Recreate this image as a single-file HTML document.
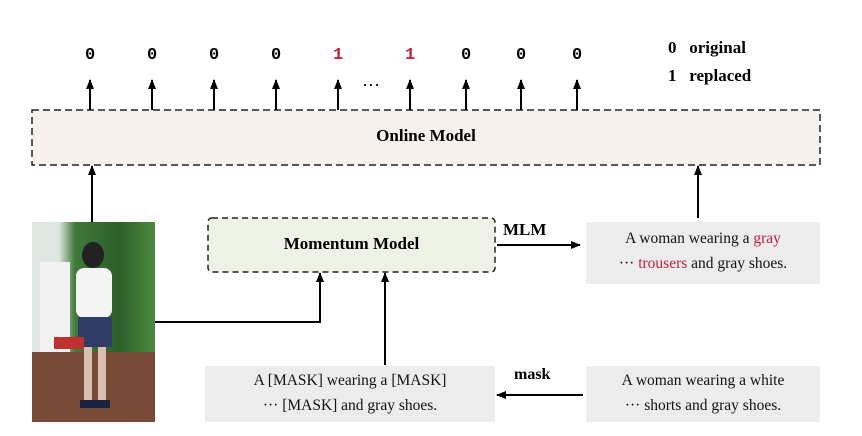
<!DOCTYPE html>
<html><head><style>
body{margin:0;background:#fff;width:862px;height:436px;overflow:hidden;position:relative;font-family:"Liberation Serif",serif}
.a{position:absolute}
.d{position:absolute;font-family:"Liberation Mono",monospace;font-weight:bold;font-size:17px;top:46px}
.tb{position:absolute;background:#ececec;font-size:15.5px;text-align:center;line-height:25px;color:#111}
</style></head><body>
<svg class="a" style="left:0;top:0" width="862" height="436">
<defs><marker id="ar" markerUnits="userSpaceOnUse" markerWidth="10" markerHeight="8" refX="9" refY="4" orient="auto"><path d="M0,0 L10,4 L0,8 z" fill="#000"/></marker></defs>
<rect x="32" y="110" width="788" height="55" fill="#f7f1ed" stroke="#222" stroke-width="1.5" stroke-dasharray="7,4"/>
<rect x="208" y="218" width="287" height="54" rx="4" fill="#eef1e6" stroke="#222" stroke-width="1.5" stroke-dasharray="6,4"/>
<g stroke="#000" stroke-width="2" marker-end="url(#ar)">
<line x1="90" y1="110" x2="90" y2="80"/><line x1="152" y1="110" x2="152" y2="80"/>
<line x1="214" y1="110" x2="214" y2="80"/><line x1="276" y1="110" x2="276" y2="80"/>
<line x1="338" y1="110" x2="338" y2="80"/><line x1="410" y1="110" x2="410" y2="80"/>
<line x1="466" y1="110" x2="466" y2="80"/><line x1="521" y1="110" x2="521" y2="80"/>
<line x1="577" y1="110" x2="577" y2="80"/>
<line x1="92" y1="222" x2="92" y2="166"/><line x1="698" y1="218" x2="698" y2="166"/>
<line x1="497" y1="245" x2="580" y2="245"/>
<polyline fill="none" points="155,322 320,322 320,273"/>
<line x1="385" y1="365" x2="385" y2="273"/>
<line x1="583" y1="395" x2="497" y2="395"/>
</g>
</svg>
<div class="d" style="left:85px">0</div><div class="d" style="left:147px">0</div><div class="d" style="left:209px">0</div><div class="d" style="left:271px">0</div>
<div class="d" style="left:333px;color:#c0203a">1</div><div class="d" style="left:405px;color:#c0203a">1</div>
<div class="d" style="left:461px">0</div><div class="d" style="left:516px">0</div><div class="d" style="left:572px">0</div>
<div class="a" style="left:362px;top:70px;font-size:18px">…</div>
<div class="a" style="left:668px;top:34px;font-weight:bold;font-size:17px;line-height:28px">0&nbsp;&nbsp;&nbsp;original<br>1&nbsp;&nbsp;&nbsp;replaced</div>
<div class="a" style="left:32px;width:788px;top:126px;text-align:center;font-weight:bold;font-size:17px">Online Model</div>
<div class="a" style="left:208px;width:287px;top:234px;text-align:center;font-weight:bold;font-size:17px">Momentum Model</div>
<div class="a" style="left:503px;top:220px;font-weight:bold;font-size:17px">MLM</div>
<div class="a" style="left:514px;top:366px;font-weight:bold;font-size:16px">mask</div>
<div class="tb" style="left:586px;top:222px;width:234px;height:58px;padding-top:4px">A woman wearing a <span style="color:#c0203a">gray</span><br>··· <span style="color:#c0203a">trousers</span> and gray shoes.</div>
<div class="tb" style="left:205px;top:366px;width:290px;height:54px;padding-top:2px">A [MASK] wearing a [MASK]<br>··· [MASK] and gray shoes.</div>
<div class="tb" style="left:586px;top:366px;width:234px;height:54px;padding-top:2px">A woman wearing a white<br>··· shorts and gray shoes.</div>
<div class="a" style="left:32px;top:222px;width:123px;height:200px;overflow:hidden;background:linear-gradient(90deg,#dfe5e0 0,#dfe5e0 22%,#3f7a3a 35%,#2d5e2a 70%,#4a8a3e 100%)">
<div class="a" style="left:0;top:130px;width:123px;height:70px;background:#7a4a38"></div>
<div class="a" style="left:8px;top:40px;width:30px;height:90px;background:#f2f2f2"></div>
<div class="a" style="left:50px;top:20px;width:22px;height:26px;border-radius:50%;background:#222"></div>
<div class="a" style="left:44px;top:46px;width:36px;height:50px;border-radius:8px;background:#f4f4f4"></div>
<div class="a" style="left:46px;top:95px;width:34px;height:30px;background:#2e3c66"></div>
<div class="a" style="left:52px;top:125px;width:8px;height:55px;background:#d8c0b0"></div>
<div class="a" style="left:66px;top:125px;width:8px;height:55px;background:#d8c0b0"></div>
<div class="a" style="left:48px;top:178px;width:30px;height:8px;background:#1a2440"></div>
<div class="a" style="left:22px;top:115px;width:30px;height:12px;background:#c03030"></div>
</div>
</body></html>
